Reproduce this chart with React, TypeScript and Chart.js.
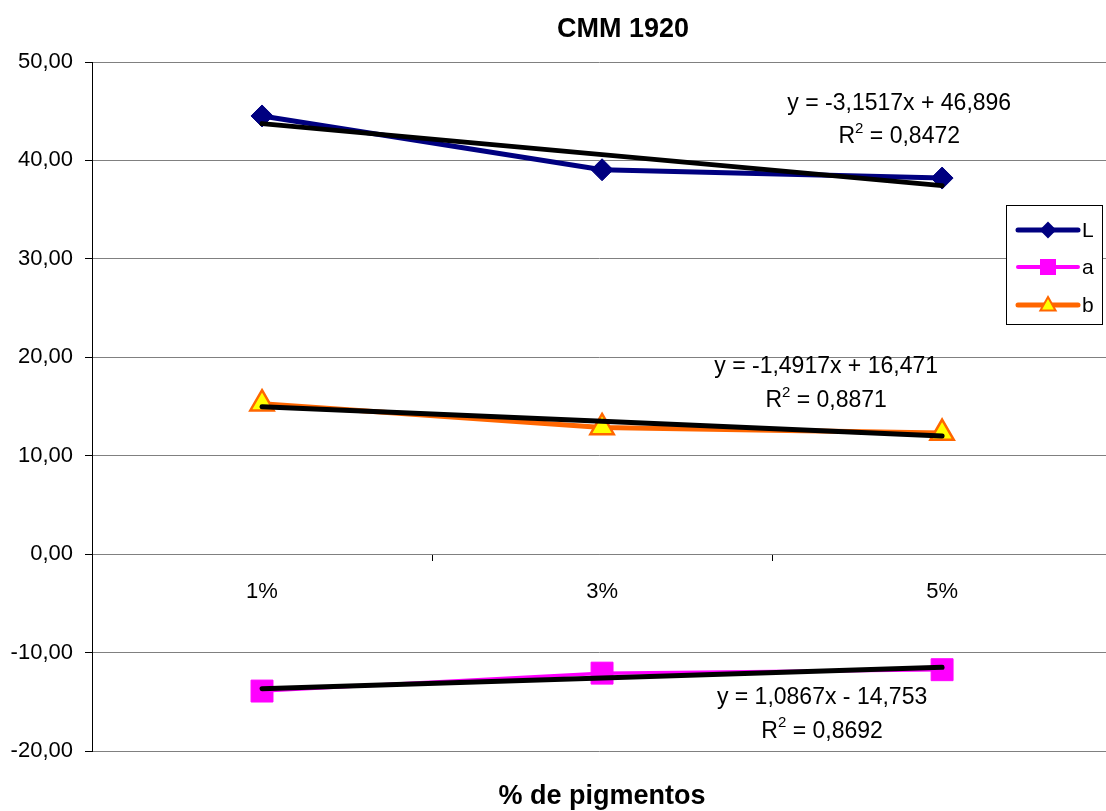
import React, { useEffect, useRef } from 'react';
import { Chart, registerables } from 'chart.js';

Chart.register(...registerables);

const categories = ['1%', '3%', '5%'];
const seriesNames = ['L', 'a', 'b'];
const seriesL = [44.52, 39.05, 38.21];
const seriesA = [-13.91, -12.09, -11.74];
const seriesB = [15.29, 12.87, 12.3];
const trendL = [43.74, 40.59, 37.44];
const trendA = [-13.67, -12.58, -11.49];
const trendB = [14.98, 13.49, 12.0];
const equations = ['y = -3,1517x + 46,896', 'y = 1,0867x - 14,753', 'y = -1,4917x + 16,471'];
const rSquared = ['0,8472', '0,8692', '0,8871'];
const chartTitle = 'CMM 1920';
const xAxisTitle = '% de pigmentos';
const xTickPositions = [0, 0.5, 1, 1.5, 2];
const yMin = -20;
const yMax = 50;
const yStep = 10;

const FONT = '"Liberation Sans", Arial, sans-serif';

const toPts = (arr: number[]) => arr.map((v, i) => ({ x: i, y: v }));

function drawMarker(ctx: CanvasRenderingContext2D, kind: string, x: number, y: number, s: number, fill: string, stroke: string) {
  ctx.save();
  ctx.beginPath();
  if (kind === 'diamond') {
    ctx.moveTo(x, y - s);
    ctx.lineTo(x + s, y);
    ctx.lineTo(x, y + s);
    ctx.lineTo(x - s, y);
    ctx.closePath();
  } else if (kind === 'square') {
    ctx.rect(x - s, y - s, 2 * s, 2 * s);
  } else {
    ctx.moveTo(x, y - s);
    ctx.lineTo(x + s * 0.95, y + s * 0.7);
    ctx.lineTo(x - s * 0.95, y + s * 0.7);
    ctx.closePath();
  }
  ctx.fillStyle = fill;
  ctx.fill();
  ctx.lineWidth = 2;
  ctx.strokeStyle = stroke;
  ctx.stroke();
  ctx.restore();
}

const annotPlugin = {
  id: 'annot',
  afterDraw(chart: any) {
    const ctx = chart.ctx as CanvasRenderingContext2D;
    const xs = chart.scales.x;
    const ys = chart.scales.y;
    ctx.save();
    ctx.fillStyle = '#000';
    ctx.textAlign = 'center';
    ctx.textBaseline = 'middle';
    ctx.font = `bold 27px ${FONT}`;
    ctx.fillText(chartTitle, 623, 30);
    ctx.fillText(xAxisTitle, xs.getPixelForValue(1), 797);

    const pos = [
      { x: 1.874, y1: 45.73, y2: 42.38 },
      { x: 1.647, y1: -14.53, y2: -17.99 },
      { x: 1.659, y1: 19.0, y2: 15.55 },
    ];
    pos.forEach((p, i) => {
      const cx = xs.getPixelForValue(p.x);
      ctx.font = `23px ${FONT}`;
      ctx.textAlign = 'center';
      ctx.fillText(equations[i], cx, ys.getPixelForValue(p.y1));
      const py = ys.getPixelForValue(p.y2);
      const rest = ' = ' + rSquared[i];
      const wR = ctx.measureText('R').width;
      const wRest = ctx.measureText(rest).width;
      ctx.font = `15px ${FONT}`;
      const w2 = ctx.measureText('2').width;
      const total = wR + w2 + wRest;
      let sx = cx - total / 2;
      ctx.textAlign = 'left';
      ctx.font = `23px ${FONT}`;
      ctx.fillText('R', sx, py);
      sx += wR;
      ctx.font = `15px ${FONT}`;
      ctx.fillText('2', sx, py - 8);
      sx += w2;
      ctx.font = `23px ${FONT}`;
      ctx.fillText(rest, sx, py);
    });

    const bx = 1006.5, by = 205.5, bw = 96, bh = 119;
    ctx.fillStyle = '#fff';
    ctx.fillRect(bx, by, bw, bh);
    ctx.strokeStyle = '#000';
    ctx.lineWidth = 1;
    ctx.strokeRect(bx, by, bw, bh);
    const items = [
      { y: 230, color: '#000080', w: 5, kind: 'diamond', fill: '#000080', stroke: '#000080', s: 7 },
      { y: 267, color: '#FF00FF', w: 4, kind: 'square', fill: '#FF00FF', stroke: '#FF00FF', s: 7 },
      { y: 305, color: '#FF6600', w: 5, kind: 'triangle', fill: '#FFFF00', stroke: '#FF6600', s: 8 },
    ];
    items.forEach((it, i) => {
      ctx.beginPath();
      ctx.lineCap = 'round';
      ctx.strokeStyle = it.color;
      ctx.lineWidth = it.w;
      ctx.moveTo(1018, it.y);
      ctx.lineTo(1078, it.y);
      ctx.stroke();
      drawMarker(ctx, it.kind, 1048, it.y, it.s, it.fill, it.stroke);
      ctx.fillStyle = '#000';
      ctx.font = `21px ${FONT}`;
      ctx.textAlign = 'left';
      ctx.textBaseline = 'middle';
      ctx.fillText(seriesNames[i], 1082, it.y + 1);
    });
    ctx.restore();
  },
};

export default function App() {
  const ref = useRef<HTMLCanvasElement>(null);
  useEffect(() => {
    if (!ref.current) return;
    const chart = new Chart(ref.current, {
      type: 'line',
      data: {
        datasets: [
          { label: 'trendL', data: toPts(trendL), borderColor: '#000', borderWidth: 5, pointRadius: 0, order: 0, borderCapStyle: 'round' },
          { label: 'trendA', data: toPts(trendA), borderColor: '#000', borderWidth: 5, pointRadius: 0, order: 0, borderCapStyle: 'round' },
          { label: 'trendB', data: toPts(trendB), borderColor: '#000', borderWidth: 5, pointRadius: 0, order: 0, borderCapStyle: 'round' },
          {
            label: seriesNames[0], data: toPts(seriesL), borderColor: '#000080', borderWidth: 5,
            pointStyle: 'rectRot', pointRadius: 11, pointBackgroundColor: '#000080', pointBorderColor: '#000080', pointBorderWidth: 1, order: 1,
          },
          {
            label: seriesNames[1], data: toPts(seriesA), borderColor: '#FF00FF', borderWidth: 3.5,
            pointStyle: 'rect', pointRadius: 15.5, pointBackgroundColor: '#FF00FF', pointBorderColor: '#FF00FF', pointBorderWidth: 1, order: 1,
          },
          {
            label: seriesNames[2], data: toPts(seriesB), borderColor: '#FF6600', borderWidth: 5,
            pointStyle: 'triangle', pointRadius: 13.5, pointBackgroundColor: '#FFFF00', pointBorderColor: '#FF6600', pointBorderWidth: 2.5, order: 1,
          },
        ] as any,
      },
      options: {
        responsive: false,
        animation: false,
        layout: { autoPadding: false, padding: { left: 0, right: 0, top: 62, bottom: 60 } },
        plugins: {
          legend: { display: false },
          tooltip: { enabled: false },
          title: { display: false },
        },
        scales: {
          x: {
            type: 'linear',
            bounds: 'data',
            position: { y: 0 } as any,
            min: -0.5,
            max: 2.482,
            afterBuildTicks: (s: any) => { s.ticks = xTickPositions.map((v) => ({ value: v })); },
            afterFit: (s: any) => { s.paddingLeft = 0; s.paddingRight = 0; },
            border: { display: true, color: '#808080', width: 1 },
            grid: {
              drawOnChartArea: false, drawTicks: true, tickLength: 6,
              tickColor: (c: any) => (c.tick && Number.isInteger(c.tick.value) ? 'rgba(0,0,0,0)' : '#000'),
            },
            ticks: {
              autoSkip: false, maxRotation: 0, minRotation: 0, padding: 19,
              color: '#000', font: { family: FONT, size: 22 },
              callback: (v: any) => (Number.isInteger(v) ? categories[v] ?? '' : ''),
            },
          },
          y: {
            type: 'linear',
            min: yMin, max: yMax,
            afterFit: (s: any) => { s.width = 92; s.paddingTop = 0; s.paddingBottom = 0; },
            border: { display: true, color: '#000', width: 1 },
            grid: { color: '#808080', lineWidth: 1, tickLength: 7, tickColor: '#000' },
            ticks: {
              stepSize: yStep, padding: 12, color: '#000', font: { family: FONT, size: 22 },
              callback: (v: any) => Number(v).toFixed(2).replace('.', ','),
            },
          },
        },
      } as any,
      plugins: [annotPlugin],
    });
    return () => chart.destroy();
  }, []);
  return (
    <div style={{ position: 'absolute', left: 0, top: 0, width: 1106, height: 811, background: '#fff' }}>
      <canvas ref={ref} width={1106} height={811} />
    </div>
  );
}
